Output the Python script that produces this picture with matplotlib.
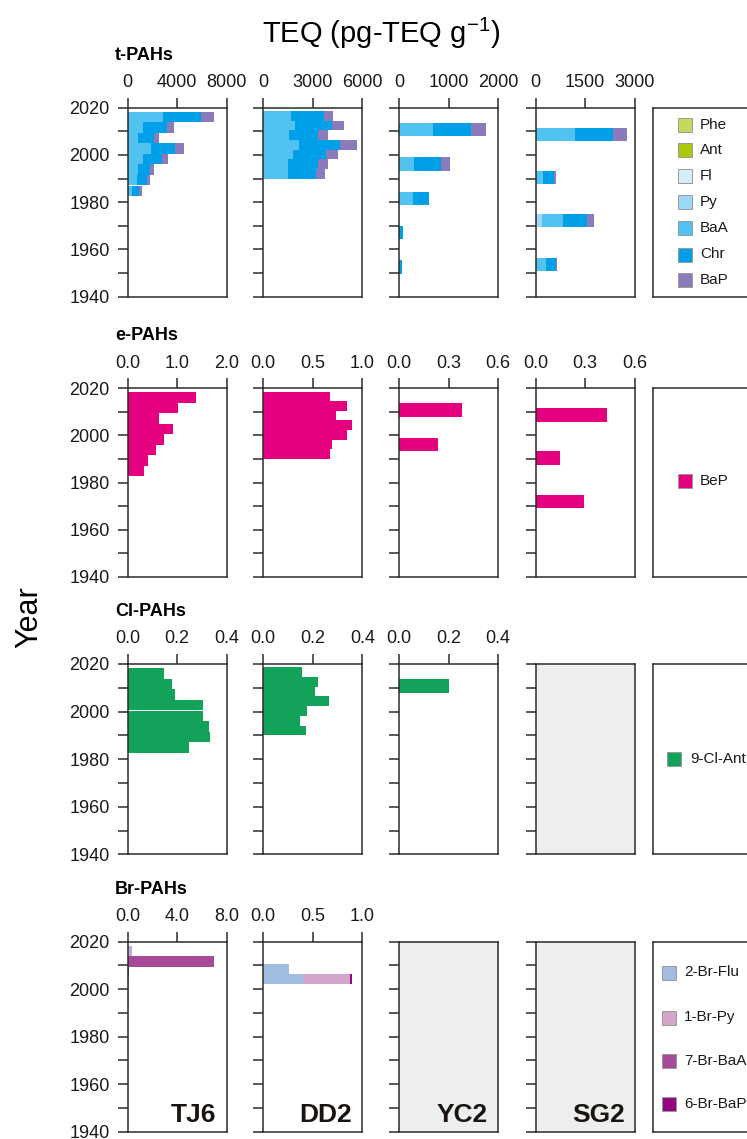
import numpy as np
import matplotlib
matplotlib.use('Agg')
import matplotlib.pyplot as plt
from matplotlib.patches import Rectangle

plt.rcParams['font.family'] = ['Liberation Sans', 'DejaVu Sans']
plt.rcParams['mathtext.default'] = 'regular'

W, H = 747, 1139

# mid-year of each dated core slice
years_tj6 = [2016.1, 2011.6, 2007.2, 2002.7, 1998.2, 1993.8, 1989.3, 1984.8]
years_dd2 = [2016.6, 2012.5, 2008.4, 2004.3, 2000.2, 1996.1, 1992.0]
years_yc2 = [2010.8, 1996.2, 1981.6, 1967.3, 1952.6]
years_sg2 = [2008.7, 1990.4, 1972.1, 1953.6]

# t-PAHs TEQ (pg-TEQ/g)
py_tj6 = [0, 0, 0, 0, 0, 0, 0, 0]
baa_tj6 = [2850, 1270, 860, 1890, 1270, 810, 730, 350]
chr_tj6 = [3090, 1910, 1290, 1970, 1480, 1020, 810, 590]
bap_tj6 = [1040, 540, 350, 670, 490, 270, 270, 190]

py_dd2 = [0, 0, 0, 0, 0, 0, 0]
baa_dd2 = [1700, 1920, 1560, 2180, 1780, 1520, 1520]
chr_dd2 = [1960, 2260, 1740, 2460, 2000, 1780, 1660]
bap_dd2 = [555, 730, 650, 1030, 730, 610, 570]

py_yc2 = [0, 0, 0, 0, 0]
baa_yc2 = [695, 300, 285, 0, 0]
chr_yc2 = [760, 550, 325, 90, 70]
bap_yc2 = [310, 180, 0, 0, 0]

py_sg2 = [0, 0, 180, 0]
baa_sg2 = [1190, 210, 650, 300]
chr_sg2 = [1160, 340, 725, 300]
bap_sg2 = [420, 60, 220, 60]

# e-PAHs
bep_tj6 = [1.37, 1.01, 0.63, 0.91, 0.73, 0.57, 0.40, 0.32]
bep_dd2 = [0.67, 0.85, 0.73, 0.90, 0.85, 0.69, 0.67]
bep_yc2 = [0.38, 0.236, 0, 0, 0]
bep_sg2 = [0.435, 0.147, 0.29, 0]

# Cl-PAHs
clant_tj6 = [0.147, 0.18, 0.19, 0.304, 0.303, 0.327, 0.333, 0.246]
clant_dd2 = [0.158, 0.22, 0.21, 0.267, 0.175, 0.15, 0.172]
clant_yc2 = [0.20, 0, 0, 0, 0]

# Br-PAHs
brflu_tj6 = [0.22, 0, 0, 0, 0, 0, 0, 0]
brpy_tj6 = [0.10, 0, 0, 0.07, 0.07, 0.07, 0.06, 0.06]
brbaa_tj6 = [0, 6.95, 0.12, 0, 0, 0, 0, 0]
brbap_tj6 = [0, 0, 0, 0, 0, 0, 0, 0]
brflu_dd2 = [0, 0, 0.263, 0.40, 0, 0, 0]
brpy_dd2 = [0, 0, 0, 0.48, 0, 0, 0]
brbaa_dd2 = [0, 0, 0, 0, 0, 0, 0]
brbap_dd2 = [0, 0, 0, 0.017, 0, 0, 0]

stations = ['TJ6', 'DD2', 'YC2', 'SG2']
groups = ['t-PAHs', 'e-PAHs', 'Cl-PAHs', 'Br-PAHs']

tpah_names = ['Phe', 'Ant', 'Fl', 'Py', 'BaA', 'Chr', 'BaP']
tpah_colors = ['#C4DA5F', '#A9C810', '#D4EEFA', '#9FD8F6', '#52C2F0', '#00A0E9', '#8B7BBA']
bep_color = '#E4007F'
clant_color = '#12A25A'
br_names = ['2-Br-Flu', '1-Br-Py', '7-Br-BaA', '6-Br-BaP']
br_colors = ['#A1BDE2', '#D3A5CB', '#A64A97', '#92077F']

bar_h = [4.46, 4.08, 5.6, 5.6]
col_x = [127.7, 263.3, 399.0, 535.7]
col_w = 99.0
row_top = [107.7, 388.3, 664.0, 941.7]
row_h = [189.0, 188.4, 190.3, 190.0]

# x-axis range per row and station (None = not analysed)
xmax = [[8000, 6000, 2000, 3000],
        [2.0, 1.0, 0.6, 0.6],
        [0.4, 0.4, 0.4, None],
        [8.0, 1.0, None, None]]

line_c = '#2b2b2b'
fig = plt.figure(figsize=(W / 100, H / 100), dpi=100)


def stacked(ax, years, parts, colors, height):
    left = np.zeros(len(years))
    for vals, c in zip(parts, colors):
        vals = np.asarray(vals, dtype=float)
        ax.barh(years, vals, height=height, left=left, color=c, linewidth=0)
        left += vals


def style(ax, xm, first_col):
    ax.set_ylim(1940, 2020)
    ax.set_yticks(np.arange(1940, 2021, 10))
    if first_col:
        ax.set_yticklabels([str(y) if y % 20 == 0 else '' for y in range(1940, 2021, 10)])
    else:
        ax.set_yticklabels([])
    ax.tick_params(axis='y', direction='out', length=7, width=1.1, color=line_c,
                   labelsize=13, pad=6, labelcolor='#1a1a1a')
    if xm is None:
        ax.set_facecolor('#EDEEEE')
        ax.set_xticks([])
    else:
        ax.set_xlim(0, xm)
        ticks = [0, xm / 2, xm]
        ax.set_xticks(ticks)
        if xm >= 100:
            ax.set_xticklabels(['%d' % t for t in ticks])
        else:
            ax.set_xticklabels(['%.1f' % t for t in ticks])
        ax.xaxis.tick_top()
        ax.tick_params(axis='x', direction='out', length=7, width=1.1, color=line_c,
                       labelsize=13, pad=5, labelcolor='#1a1a1a')
    for s in ax.spines.values():
        s.set_linewidth(1.1)
        s.set_color(line_c)


def add_axes(r, c):
    left = col_x[c] / W
    bottom = 1 - (row_top[r] + row_h[r]) / H
    return fig.add_axes([left, bottom, col_w / W, row_h[r] / H])


axes = [[add_axes(r, c) for c in range(4)] for r in range(4)]

# t-PAHs
t_data = [
    (years_tj6, [py_tj6, baa_tj6, chr_tj6, bap_tj6]),
    (years_dd2, [py_dd2, baa_dd2, chr_dd2, bap_dd2]),
    (years_yc2, [py_yc2, baa_yc2, chr_yc2, bap_yc2]),
    (years_sg2, [py_sg2, baa_sg2, chr_sg2, bap_sg2]),
]
for c, (yrs, parts) in enumerate(t_data):
    stacked(axes[0][c], yrs, parts, tpah_colors[3:], bar_h[c])

# e-PAHs
for c, (yrs, vals) in enumerate([(years_tj6, bep_tj6), (years_dd2, bep_dd2),
                                 (years_yc2, bep_yc2), (years_sg2, bep_sg2)]):
    stacked(axes[1][c], yrs, [vals], [bep_color], bar_h[c])

# Cl-PAHs
for c, (yrs, vals) in enumerate([(years_tj6, clant_tj6), (years_dd2, clant_dd2),
                                 (years_yc2, clant_yc2)]):
    stacked(axes[2][c], yrs, [vals], [clant_color], bar_h[c])

# Br-PAHs
stacked(axes[3][0], years_tj6, [brflu_tj6, brpy_tj6, brbaa_tj6, brbap_tj6], br_colors, bar_h[0])
stacked(axes[3][1], years_dd2, [brflu_dd2, brpy_dd2, brbaa_dd2, brbap_dd2], br_colors, bar_h[1])

for r in range(4):
    for c in range(4):
        style(axes[r][c], xmax[r][c], c == 0)

for c, name in enumerate(stations):
    axes[3][c].text(1 - 10 / col_w, 10 / row_h[3], name, transform=axes[3][c].transAxes,
                    ha='right', va='baseline', fontsize=19, fontweight='bold',
                    color='#1a1410')

# legend boxes, running off the right edge
leg_x = 653.3
for r in range(4):
    lax = fig.add_axes([leg_x / W, 1 - (row_top[r] + row_h[r]) / H, 110 / W, row_h[r] / H])
    lax.set_xticks([])
    lax.set_yticks([])
    for s in lax.spines.values():
        s.set_linewidth(1.1)
        s.set_color(line_c)


def key(x, xt, yc, color, label):
    fig.add_artist(Rectangle((x / W, 1 - (yc + 7) / H), 14 / W, 14 / H,
                             transform=fig.transFigure, facecolor=color,
                             edgecolor='#9a9a9a', linewidth=0.7))
    fig.text(xt / W, 1 - yc / H, label, ha='left', va='center', fontsize=11,
             color='#1a1a1a')


for name, color, yc in zip(tpah_names, tpah_colors, [125, 150, 176, 202, 228, 254.5, 280]):
    key(677.7, 700, yc, color, name)
key(678, 700, 481, bep_color, 'BeP')
key(667, 690, 759, clant_color, '9-Cl-Ant')
for name, color, yc in zip(br_names, br_colors, [972.5, 1017.5, 1061, 1104]):
    key(662, 684, yc, color, name)

# group titles and shared labels
for r, g in enumerate(groups):
    fig.text(115 / W, 1 - (row_top[r] - 48) / H, g, ha='left', va='baseline',
             fontsize=13, fontweight='bold')

fig.text(381 / W, 1 - 43 / H, 'TEQ (pg-TEQ g$^{-1}$)', ha='center', va='baseline',
         fontsize=21)
fig.text(29 / W, 1 - 617 / H, 'Year', rotation=90, ha='center', va='center', fontsize=22)

fig.savefig('out.png', dpi=100)
